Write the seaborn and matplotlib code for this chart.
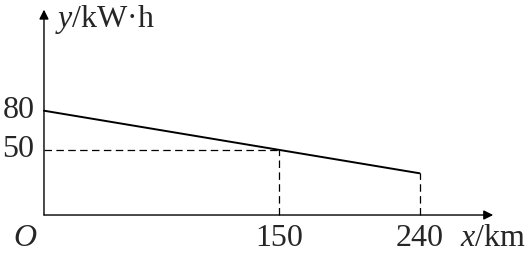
import matplotlib
matplotlib.use("Agg")
import matplotlib.pyplot as plt
import seaborn as sns
import pandas as pd

sns.set_theme(style="white")
plt.rcParams['font.family'] = ['Liberation Serif', 'DejaVu Serif']
plt.rcParams['mathtext.fontset'] = 'custom'
plt.rcParams['mathtext.rm'] = 'Liberation Serif'
plt.rcParams['mathtext.it'] = 'Liberation Serif:italic'

# Data
x_vals = [0, 150, 240]
y_vals = [80, 50, 32]
x_ticks = [150, 240]
x_tick_labels = ["150", "240"]
y_ticks = [80, 50]
y_tick_labels = ["80", "50"]

df = pd.DataFrame({"x": x_vals, "y": y_vals})

fig = plt.figure(figsize=(5.27, 2.54), dpi=100)
ax = fig.add_axes([0, 0, 1, 1])
ax.set_xlim(-28.1, 308.6)
ax.set_ylim(-29.9, 164.9)
ax.axis("off")

sns.lineplot(data=df, x="x", y="y", ax=ax, color="black", linewidth=1.4)

dash = (0, (6, 3.5))
ax.plot([0, 150], [50, 50], color="black", linestyle=dash, linewidth=0.9)
ax.plot([150, 150], [0, 50], color="black", linestyle=dash, linewidth=0.9)
ax.plot([240, 240], [0, 32], color="black", linestyle=dash, linewidth=0.9)

ax.annotate("", xy=(287, 0), xytext=(0, 0),
            arrowprops=dict(arrowstyle="-|>", color="black", lw=1.0,
                            mutation_scale=14, shrinkA=0, shrinkB=0))
ax.annotate("", xy=(0, 157.5), xytext=(0, 0),
            arrowprops=dict(arrowstyle="-|>", color="black", lw=1.0,
                            mutation_scale=14, shrinkA=0, shrinkB=0))

fs = 23
for v, lab in zip(x_ticks, x_tick_labels):
    ax.text(v, -7, lab, ha="center", va="top", fontsize=fs)
for v, lab in zip(y_ticks, y_tick_labels):
    ax.text(-6, v, lab, ha="right", va="center", fontsize=fs)

ax.text(-5, -7, "O", ha="right", va="top", fontsize=fs, style="italic")
ax.text(308, -7, r"$x$/km", ha="right", va="top", fontsize=fs)
ax.text(7, 150, r"$y$/kW·h", ha="left", va="center", fontsize=fs)

fig.savefig("out.png", dpi=100)
